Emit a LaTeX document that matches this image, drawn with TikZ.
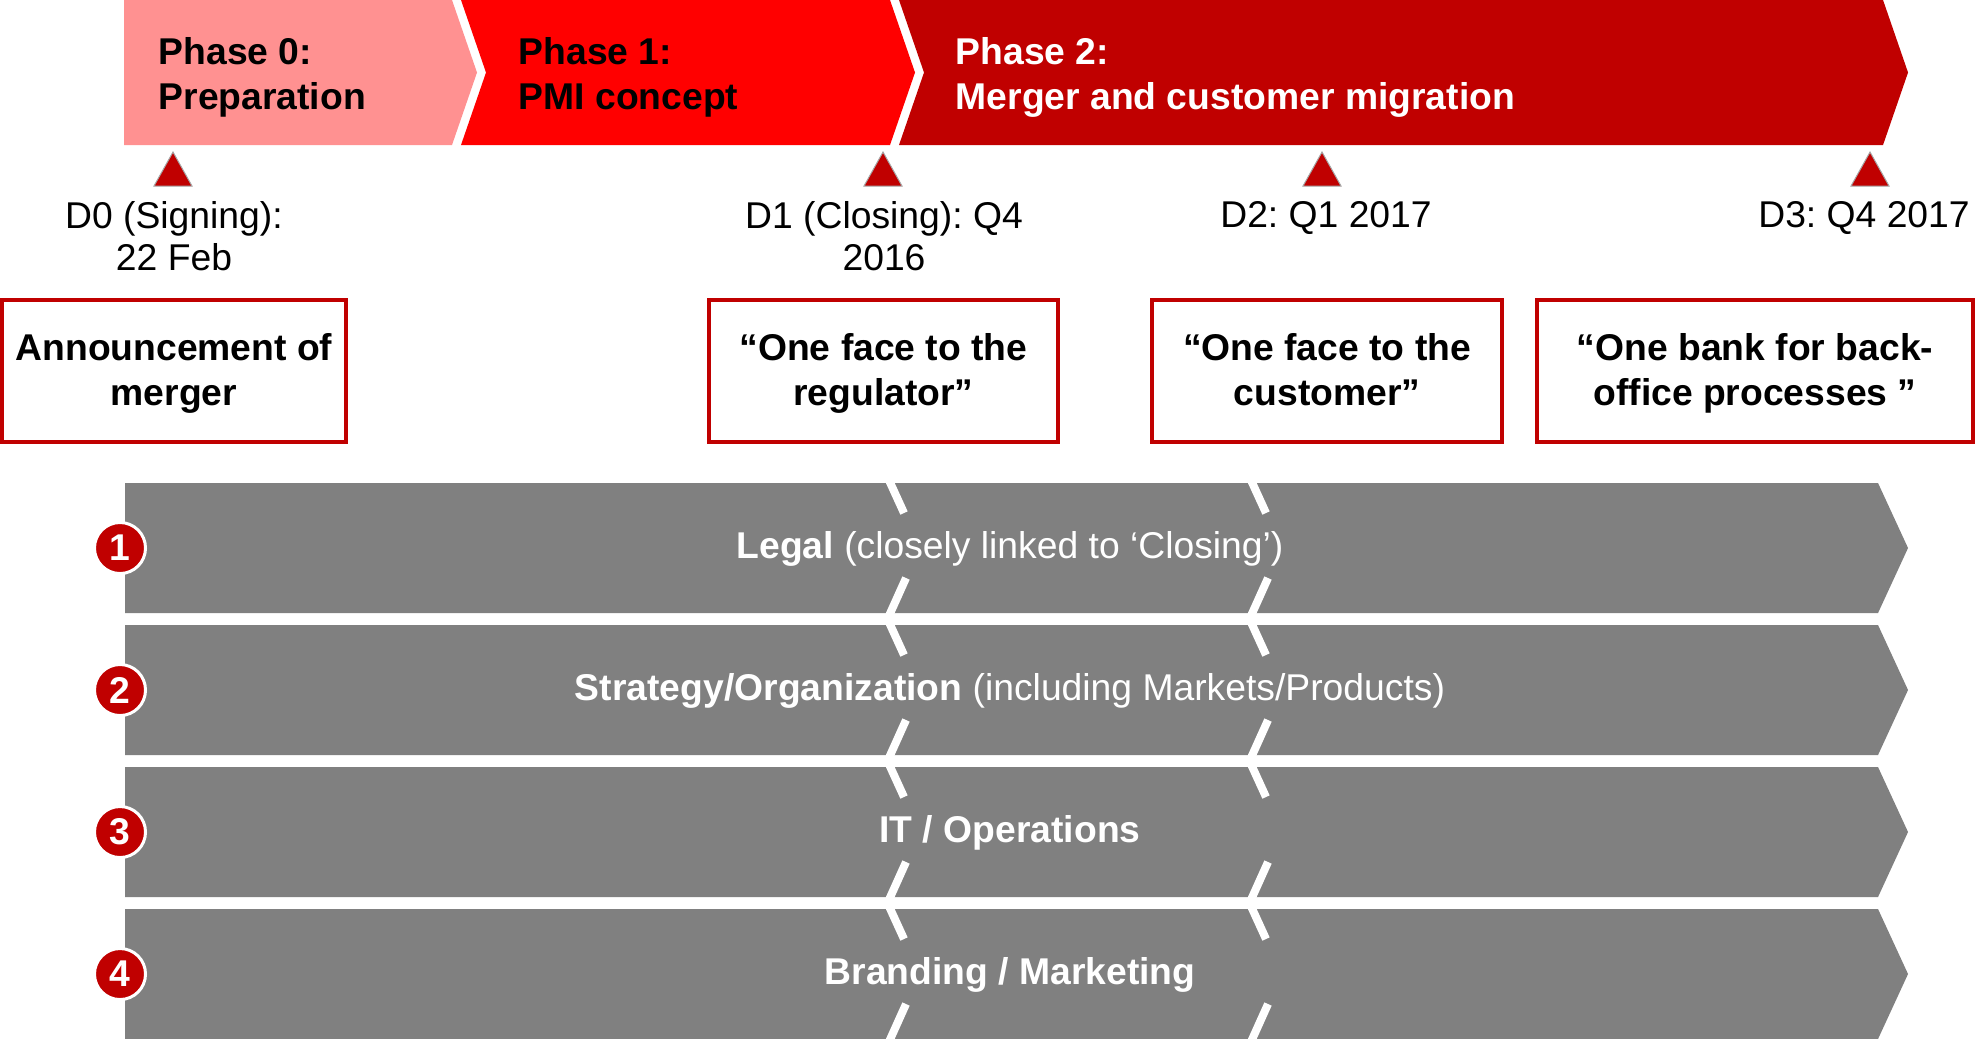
\documentclass[tikz,border=0pt]{standalone}
\usepackage{fontspec}
\setmainfont{Liberation Sans}
\frenchspacing

\definecolor{phasepink}{RGB}{255,145,145}
\definecolor{phasered}{RGB}{255,0,0}
\definecolor{darkred}{RGB}{192,0,0}
\definecolor{lanegray}{RGB}{128,128,128}

\begin{document}
\begin{tikzpicture}[x=0.01cm, y=-0.01cm,
    every node/.style={inner sep=0pt, font=\fontsize{10.6}{12.8}\selectfont},
    phasetext/.style={anchor=north west, align=left, font=\fontsize{10.6}{12.8}\selectfont\bfseries},
    datetext/.style={align=center, font=\fontsize{10.6}{12}\selectfont},
    quotebox/.style={draw=darkred, line width=0.04cm, minimum height=1.42cm, align=center,
                     font=\fontsize{10.6}{12.8}\selectfont\bfseries,
                     text height=0.76cm, text depth=0.08cm},
    lanetext/.style={anchor=base, text=white},
    badge/.style={circle, fill=darkred, draw=white, line width=0.03cm, minimum size=0.51cm,
                  text=white, font=\fontsize{10.6}{12.8}\selectfont\bfseries},
    milestone/.style={fill=darkred, draw=gray!70, line width=0.01cm},
    cut/.style={draw=white, line width=0.08cm}]
  \useasboundingbox (0,0) rectangle (1977,1038);

  % phase arrows
  \fill[phasepink] (124,0) -- (452,0) -- (477,72.5) -- (452,145) -- (124,145) -- cycle;
  \fill[phasered]  (461,0) -- (890,0) -- (915,72.5) -- (890,145) -- (461,145) -- (486,72.5) -- cycle;
  \fill[darkred]   (899,0) -- (1883,0) -- (1908,72.5) -- (1883,145) -- (899,145) -- (924,72.5) -- cycle;

  \node[phasetext]             (P0) at (158,36.5) {Phase 0:\\Preparation};
  \node[phasetext]             (P1) at (518,36.5) {Phase 1:\\PMI concept};
  \node[phasetext, text=white] (P2) at (955,36.5) {Phase 2:\\Merger and customer migration};

  % milestones
  \filldraw[milestone] (173,152)  -- (192,186)  -- (154,186)  -- cycle;
  \filldraw[milestone] (883,152)  -- (902,186)  -- (864,186)  -- cycle;
  \filldraw[milestone] (1322,152) -- (1341,186) -- (1303,186) -- cycle;
  \filldraw[milestone] (1870,152) -- (1889,186) -- (1851,186) -- cycle;

  \node[datetext, anchor=north] (D0) at (174,201)    {D0 (Signing):\\22 Feb};
  \node[datetext, anchor=north] (D1) at (884,201)    {D1 (Closing): Q4\\2016};
  \node[anchor=base]            (D2) at (1326,227.5) {D2: Q1 2017};
  \node[anchor=base]            (D3) at (1864,227.5) {D3: Q4 2017};

  \node[quotebox, minimum width=3.44cm] (B0) at (174,371)   {Announcement of\\merger};
  \node[quotebox, minimum width=3.49cm] (B1) at (883.5,371) {“One face to the\\regulator”};
  \node[quotebox, minimum width=3.50cm] (B2) at (1327,371)  {“One face to the\\customer”};
  \node[quotebox, minimum width=4.36cm] (B3) at (1755,371)  {“One bank for back-\\office processes ”};

  % workstreams
  \fill[lanegray] (125,483) -- (1878,483) -- (1908,548) -- (1878,613) -- (125,613) -- cycle;
  \fill[lanegray] (125,625) -- (1878,625) -- (1908,690) -- (1878,755) -- (125,755) -- cycle;
  \fill[lanegray] (125,767) -- (1878,767) -- (1908,832) -- (1878,897) -- (125,897) -- cycle;
  \fill[lanegray] (125,909) -- (1878,909) -- (1908,974) -- (1878,1039) -- (125,1039) -- cycle;

  \draw[cut] (888,478) -- (904,513) (906,578) -- (888,618) (1250,478) -- (1266,513) (1268,578) -- (1250,618);
  \draw[cut] (888,620) -- (904,655) (906,720) -- (888,760) (1250,620) -- (1266,655) (1268,720) -- (1250,760);
  \draw[cut] (888,762) -- (904,797) (906,862) -- (888,902) (1250,762) -- (1266,797) (1268,862) -- (1250,902);
  \draw[cut] (888,904) -- (904,939) (906,1004) -- (888,1044) (1250,904) -- (1266,939) (1268,1004) -- (1250,1044);

  \node[lanetext] (L1) at (1010,558)  {\textbf{Legal} (closely linked to ‘Closing’)};
  \node[lanetext] (L2) at (1010,700)  {\textbf{Strategy/Organization} (including Markets/Products)};
  \node[lanetext] (L3) at (1010,842)  {\textbf{IT / Operations}};
  \node[lanetext] (L4) at (1010,984)  {\textbf{Branding / Marketing}};

  \node[badge] (N1) at (120,548) {1};
  \node[badge] (N2) at (120,690) {2};
  \node[badge] (N3) at (120,832) {3};
  \node[badge] (N4) at (120,974) {4};
\end{tikzpicture}
\end{document}
